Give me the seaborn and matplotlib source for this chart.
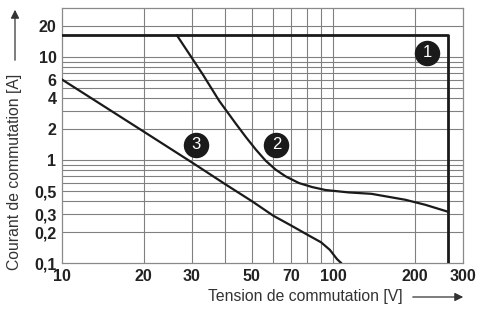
import matplotlib
matplotlib.use("Agg")
import matplotlib.pyplot as plt
import numpy as np
import pandas as pd
import seaborn as sns

# curve 1: contact limit (16 A up to ~265 V)
c1_v = [10, 265, 265]
c1_a = [16.4, 16.4, 0.1]
# curve 2
c2_v = [26.5, 33.0, 38.0, 43.8, 47.6, 51.8, 56.3, 61.3, 66.7, 74.6, 83.5, 93.5, 113.8, 138, 184, 218, 265]
c2_a = [16.4, 6.84, 3.76, 2.25, 1.68, 1.27, 0.99, 0.811, 0.698, 0.602, 0.55, 0.515, 0.488, 0.473, 0.414, 0.37, 0.316]
# curve 3
c3_v = [10, 19.3, 30.3, 40.2, 50.3, 60, 70, 80, 90, 97, 103, 107]
c3_a = [6.1, 2.02, 0.944, 0.58, 0.398, 0.29, 0.232, 0.19, 0.16, 0.135, 0.11, 0.1]

badge_txt = ["1", "2", "3"]
badge_v = [222, 61.6, 31.2]
badge_a = [11.1, 1.42, 1.42]

x_ticks = [10, 20, 30, 50, 70, 100, 200, 300]
y_ticks = [0.1, 0.2, 0.3, 0.5, 1, 2, 4, 6, 10, 20]
y_tick_labels = ["0,1", "0,2", "0,3", "0,5", "1", "2", "4", "6", "10", "20"]
x_grid = [20, 30, 40, 50, 60, 70, 80, 90, 100, 200]
y_grid = [0.2, 0.3, 0.4, 0.5, 0.6, 0.7, 0.8, 0.9, 1, 2, 3, 4, 5, 6, 7, 8, 9, 10, 20]

df = pd.concat([
    pd.DataFrame({"V": c1_v, "A": c1_a, "curve": "1"}),
    pd.DataFrame({"V": c2_v, "A": c2_a, "curve": "2"}),
    pd.DataFrame({"V": c3_v, "A": c3_a, "curve": "3"}),
], ignore_index=True)

sns.set_style("white")
plt.rcParams["font.family"] = ["Liberation Sans", "DejaVu Sans"]

fig = plt.figure(figsize=(4.78, 3.13), dpi=100)
ax = fig.add_axes([0.1297, 0.1588, 0.8389, 0.8147])
ax.set_xscale("log")
ax.set_yscale("log")
ax.set_xlim(10, 300)
ax.set_ylim(0.1, 30)

grid_kw = dict(color="#808080", lw=0.8, zorder=1)
for v in x_grid:
    ax.axvline(v, **grid_kw)
for a in y_grid:
    ax.axhline(a, **grid_kw)
for s in ax.spines.values():
    s.set_color("#8a8a8a")
    s.set_linewidth(0.9)

sns.lineplot(data=df[df.curve == "1"], x="V", y="A", sort=False, estimator=None,
             color="#1a1a1a", lw=2.0, ax=ax, zorder=3)
sns.lineplot(data=df[df.curve != "1"], x="V", y="A", units="curve", sort=False,
             estimator=None, color="#1a1a1a", lw=1.6, ax=ax, zorder=3)
for ln in ax.get_lines():
    ln.set_solid_joinstyle("round")

ax.scatter(badge_v, badge_a, s=300, color="#1a1a1a", zorder=4)
for t, v, a in zip(badge_txt, badge_v, badge_a):
    ax.text(v, a, t, color="white", ha="center", va="center", fontsize=12, zorder=5)

ax.set_xticks(x_ticks)
ax.set_xticklabels([str(t) for t in x_ticks])
ax.set_yticks(y_ticks)
ax.set_yticklabels(y_tick_labels)
ax.minorticks_off()
ax.tick_params(length=0, labelsize=11.5, labelcolor="#222222", pad=4)
for lab in ax.get_xticklabels() + ax.get_yticklabels():
    lab.set_fontweight("bold")
ax.set_xlabel("")
ax.set_ylabel("")

fig.text(403 / 478, 1 - 297 / 313, "Tension de commutation [V]", ha="right", va="center",
         fontsize=11.3, color="#333333")
fig.text(15 / 478, 1 - 172 / 313, "Courant de commutation [A]", ha="center", va="center",
         rotation=90, fontsize=11.3, color="#333333")
fig.add_artist(matplotlib.patches.FancyArrowPatch(
    (410 / 478, 1 - 297 / 313), (466 / 478, 1 - 297 / 313), transform=fig.transFigure,
    arrowstyle="-|>,head_length=5,head_width=2.5", color="#333333", lw=0.9))
fig.add_artist(matplotlib.patches.FancyArrowPatch(
    (15 / 478, 1 - 63 / 313), (15 / 478, 1 - 7 / 313), transform=fig.transFigure,
    arrowstyle="-|>,head_length=5,head_width=2.5", color="#333333", lw=0.9))

fig.savefig("out.png", dpi=100)
